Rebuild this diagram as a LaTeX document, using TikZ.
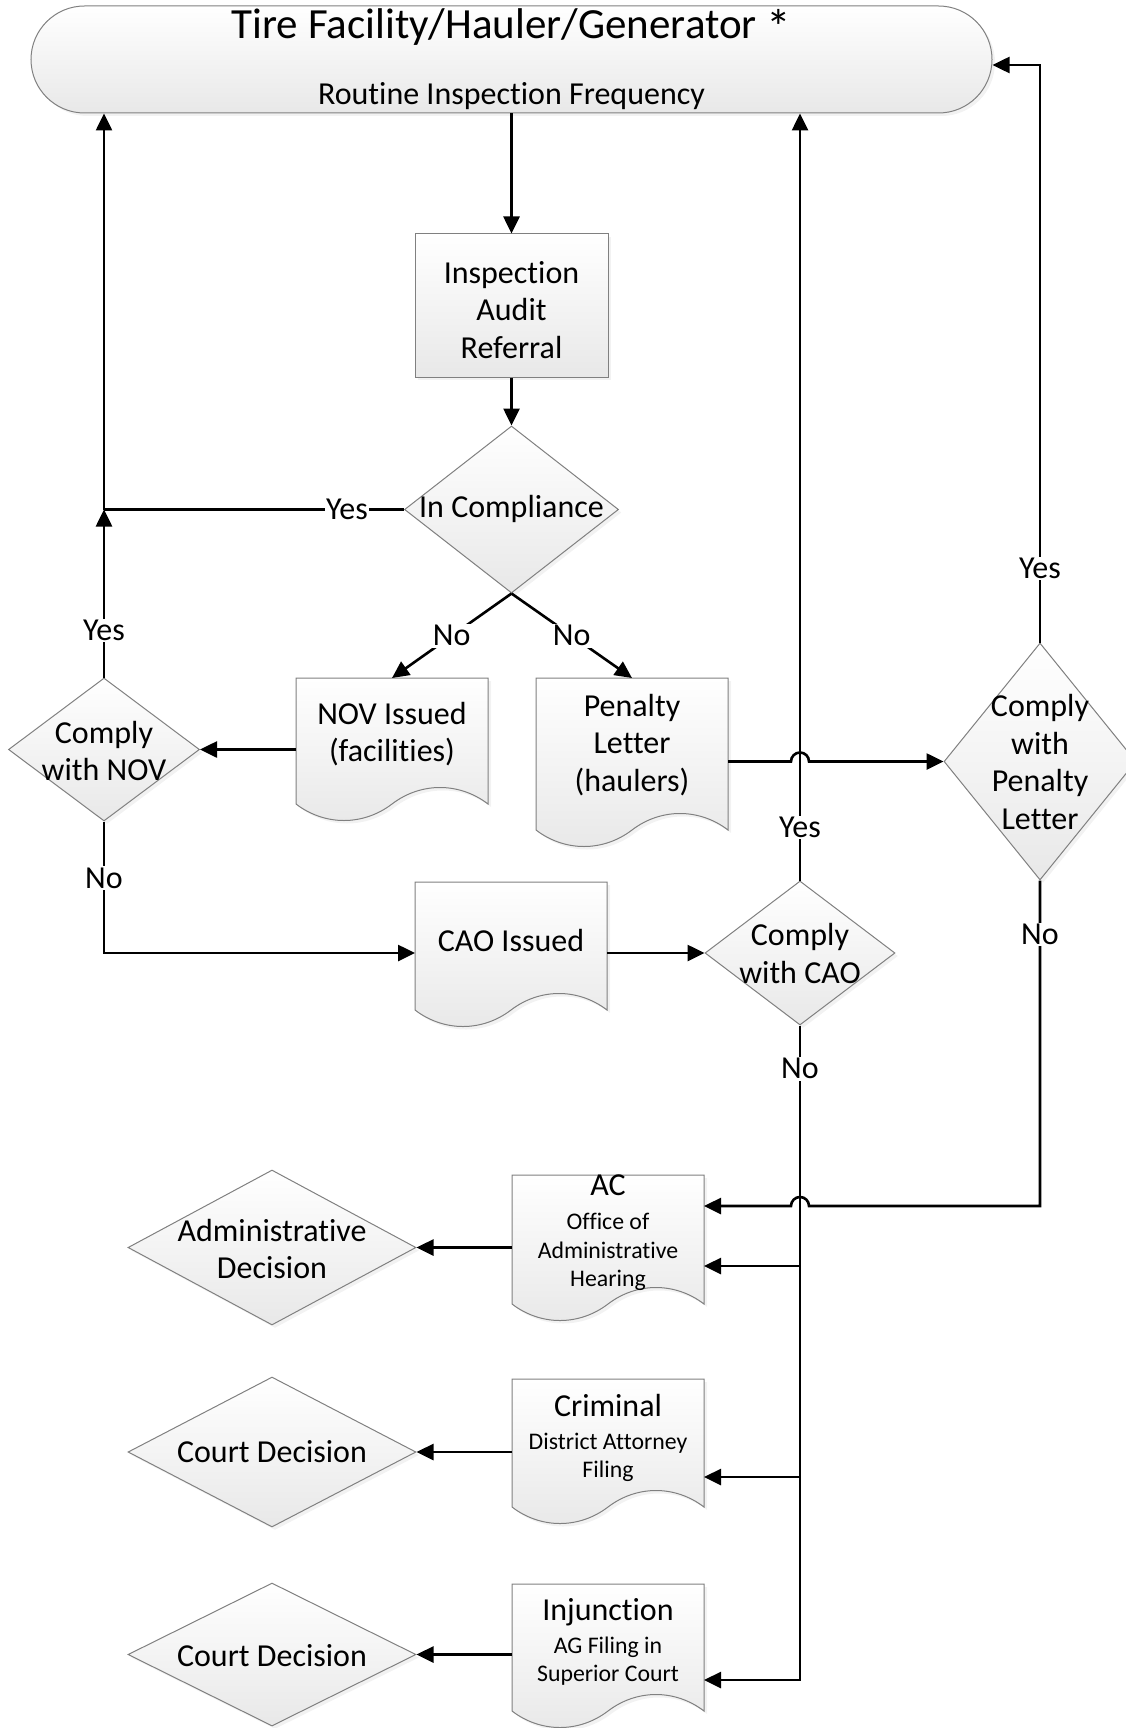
\documentclass[tikz,border=0pt]{standalone}
\usepackage{fontspec}
\setmainfont[Ligatures={NoCommon,NoRequired,NoContextual}]{Carlito}
\usetikzlibrary{shapes.geometric,arrows.meta,calc,shadows}
\newcommand\fmain{\fontsize{32}{37.5}\selectfont}
\newcommand\fsmall{\fontsize{23.8}{28.7}\selectfont}
\newcommand\ftitle{\fontsize{43}{50}\selectfont}
\tikzset{
 shp/.style={draw=gray, line width=1pt, top color=white, bottom color=black!9,
   drop shadow={opacity=0.1, shadow xshift=3pt, shadow yshift=-3pt}},
 dia/.style={shp, diamond, inner sep=0pt},
 docbox/.style={rectangle, draw=none, inner sep=0pt, outer sep=0pt, minimum width=192pt},
 txt/.style={font=\fmain, align=center, inner sep=0pt},
 stxt/.style={font=\fsmall, align=center, inner sep=0pt},
 conn/.style={line width=2.6pt},
 arr/.style={conn, -{Triangle[length=17pt,width=16pt]}},
 lbl/.style={font=\fmain, fill=white, inner sep=1.5pt},
}
\newcommand\docshape[1]{%
 \path[shp] (#1.north west) -- (#1.north east) -- (#1.south east)
  .. controls ($(#1.south east)+(-28.8,-22)$) and ($(#1.south east)+(-67.2,-22)$) .. (#1.south)
  .. controls ($(#1.south)+(-28.8,22)$) and ($(#1.south)+(-67.2,22)$) .. (#1.south west) -- cycle;}
\begin{document}
\begin{tikzpicture}[x=1pt,y=-1pt]
\useasboundingbox (0,0) rectangle (1126,1728);
% terminal
\node[shp, rectangle, rounded corners=53.5pt, minimum width=961pt, minimum height=107pt, inner sep=0pt] (term) at (511.5,59.5) {};
\node[txt, font=\ftitle] (termt) at (511.5,27) {Tire Facility/Hauler/Generator \raisebox{-0.15em}{\scalebox{1.15}{*}}};
\node[txt] (terms) at (511.5,96) {Routine Inspection Frequency};
% inspection box
\node[shp, rectangle, minimum width=193pt, minimum height=143pt, inner sep=0pt] (insp) at (511.5,305.5) {};
\node[txt] (inspt) at (511.5,310) {Inspection\\Audit\\Referral};
% in compliance
\node[dia, minimum width=214pt, minimum height=167pt] (comp) at (511.5,509.5) {};
\node[txt] (compt) at (511.5,509) {In Compliance};
% documents
\node[docbox, minimum height=126pt, anchor=north west] (nov) at (296,678) {};
\docshape{nov}
\node[txt] (novt) at (392,734) {NOV Issued\\(facilities)};
\node[docbox, minimum height=152pt, anchor=north west] (pen) at (536,678) {};
\docshape{pen}
\node[txt] (pent) at (632,745) {Penalty\\Letter\\(haulers)};
\node[docbox, minimum height=128pt, anchor=north west] (cao) at (415,882) {};
\docshape{cao}
\node[txt] (caot) at (511,940) {CAO Issued};
\node[docbox, minimum height=129pt, anchor=north west] (ac) at (512,1175) {};
\docshape{ac}
\node[stxt] (act) at (608,1233) {{\fmain AC}\\[5pt]Office of\\Administrative\\Hearing};
\node[docbox, minimum height=128pt, anchor=north west] (crim) at (512,1379) {};
\docshape{crim}
\node[stxt] (crimt) at (608,1438) {{\fmain Criminal}\\[4pt]District Attorney\\Filing};
\node[docbox, minimum height=127pt, anchor=north west] (inj) at (512,1584) {};
\docshape{inj}
\node[stxt] (injt) at (608,1642) {{\fmain Injunction}\\[4pt]AG Filing in\\Superior Court};
% decisions
\node[dia, minimum width=191pt, minimum height=143pt] (novd) at (104,749.5) {};
\node[txt] (novdt) at (104,751) {Comply\\with NOV};
\node[dia, minimum width=192pt, minimum height=237pt] (pcd) at (1040,761.5) {};
\node[txt] (pcdt) at (1040,762) {Comply\\with\\Penalty\\Letter};
\node[dia, minimum width=190pt, minimum height=144pt] (cad) at (800,953) {};
\node[txt] (cadt) at (800,953.5) {Comply\\with CAO};
\node[dia, minimum width=288pt, minimum height=155pt] (add) at (272,1247.5) {};
\node[txt] (addt) at (272,1249) {Administrative\\Decision};
\node[dia, minimum width=288pt, minimum height=150pt] (cd1) at (272,1452) {};
\node[txt] (cd1t) at (272,1452) {Court Decision};
\node[dia, minimum width=288pt, minimum height=143pt] (cd2) at (272,1654.5) {};
\node[txt] (cd2t) at (272,1656) {Court Decision};
% helper coordinates
\coordinate (jy) at (novd.north |- comp.west);
\coordinate (tr) at ($(term.east)+(0,5.5)$);
\coordinate (acin1) at ($(ac.north east)+(0,31)$);
\coordinate (acin2) at ($(ac.north east)+(0,91)$);
\coordinate (crimin) at ($(crim.north east)+(0,98)$);
\coordinate (injin) at ($(inj.north east)+(0,96)$);
% connectors
\draw[arr] (term.south) -- (insp.north);
\draw[arr] (insp.south) -- (comp.north);
\draw[conn] (comp.west) -- node[lbl,pos=0.19]{Yes} (jy);
\draw[arr] (jy) -- (jy |- term.south);
\draw[arr] (novd.north) -- node[lbl,pos=0.28]{Yes} (jy);
\draw[arr] (comp.south) -- node[lbl]{No} (nov.north);
\draw[arr] (comp.south) -- node[lbl]{No} (pen.north);
\draw[arr] (nov.west |- novd.east) -- (novd.east);
\draw[arr] (novd.south) |- node[lbl,pos=0.215]{No} (cao.west |- cad.west);
\draw[arr] (cao.east |- cad.west) -- (cad.west);
\draw[arr] (cad.north) -- node[lbl,pos=0.069]{Yes} (cad.north |- term.south);
\draw[arr] (pen.east |- pcd.west) -- ($(cad.north |- pcd.west)+(-9,0)$) arc[start angle=180,end angle=360,radius=9] -- (pcd.west);
\draw[arr] (pcd.north) |- node[lbl,pos=0.064]{Yes} (tr);
\draw[arr] (pcd.south) -- node[lbl,pos=0.166]{No} (pcd.south |- acin1) -- ($(cad.south |- acin1)+(9,0)$) arc[start angle=0,end angle=-180,radius=9] -- (acin1);
\draw[arr] (cad.south) -- node[lbl,pos=0.066]{No} (cad.south |- injin) -- (injin);
\draw[arr] (cad.south |- acin2) -- (acin2);
\draw[arr] (cad.south |- crimin) -- (crimin);
\draw[arr] (add.east -| ac.west) -- (add.east);
\draw[arr] (cd1.east -| crim.west) -- (cd1.east);
\draw[arr] (cd2.east -| inj.west) -- (cd2.east);
\end{tikzpicture}
\end{document}
